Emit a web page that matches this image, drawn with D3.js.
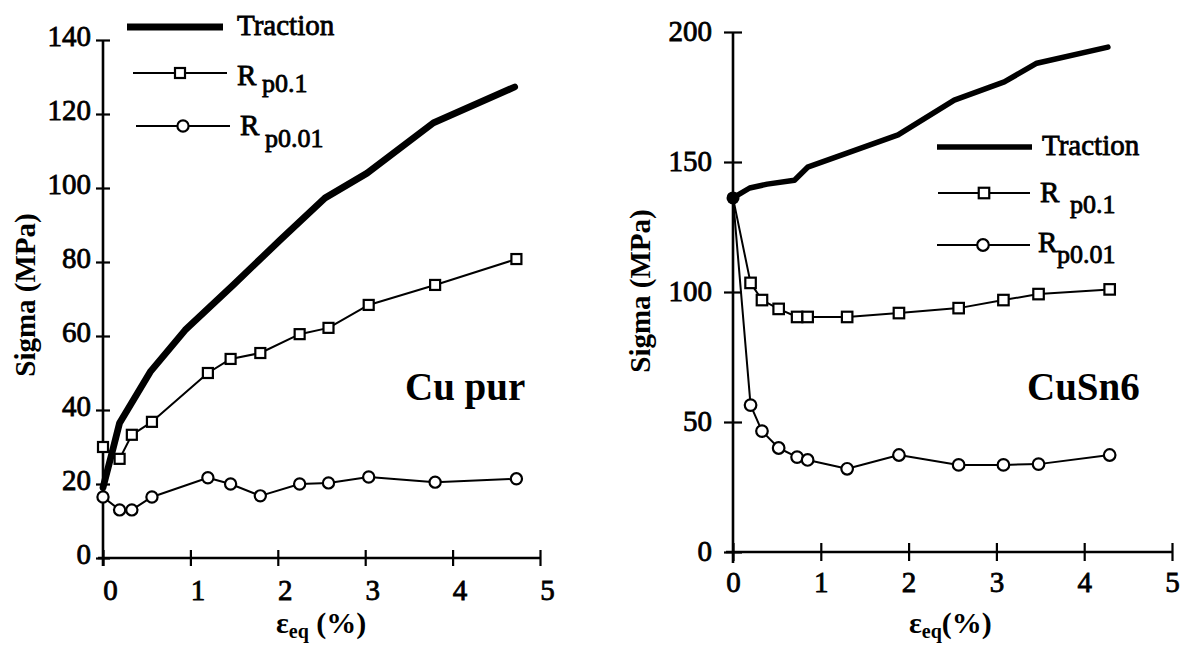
<!DOCTYPE html>
<html><head><meta charset="utf-8">
<script src="https://cdn.jsdelivr.net/npm/d3@7"></script>
<style>
body{margin:0;background:#fff}
svg{display:block;background:#fff}
text{font-family:"Liberation Serif","Times New Roman",serif;fill:#000}
</style>
</head><body>
<svg id="chart" width="1183" height="646"></svg>
<script>
// ---------- data ----------
const seriesNames = ["Traction", "R", "R"];
const subNames = ["", "p0.1", "p0.01"];
const xTicks = [0, 1, 2, 3, 4, 5];
const yTicksCu = [0, 20, 40, 60, 80, 100, 120, 140];
const yTicksSn = [0, 50, 100, 150, 200];

// Cu pur
const cuTractionStrain = [0, 0.12, 0.19, 0.54, 0.94, 1.49, 2.03, 2.54, 3.02, 3.78, 4.71];
const cuTractionSigma  = [19, 30, 36.5, 50.3, 61.6, 73.8, 86, 97.3, 104, 117.6, 127.3];
const cuStrain  = [0, 0.19, 0.33, 0.56, 1.2, 1.46, 1.8, 2.25, 2.58, 3.04, 3.8, 4.73];
const cuRp01    = [30, 26.8, 33.3, 36.8, 50, 53.8, 55.4, 60.5, 62.2, 68.4, 73.8, 80.8];
const cuRp001   = [16.5, 13, 13, 16.5, 21.7, 20, 16.8, 20, 20.3, 21.9, 20.5, 21.4];

// CuSn6
const snTractionStrain = [0, 0.19, 0.39, 0.70, 0.85, 1.33, 1.88, 2.52, 3.09, 3.46, 4.27];
const snTractionSigma  = [136.2, 140, 141.5, 143, 148, 153.8, 160.4, 173.8, 180.8, 188, 194.2];
const snStrain  = [0, 0.2, 0.33, 0.52, 0.73, 0.85, 1.3, 1.89, 2.57, 3.08, 3.48, 4.29];
const snRp01    = [136.2, 103.5, 96.9, 93.5, 90.4, 90.4, 90.4, 91.9, 93.8, 96.9, 99.2, 101];
const snRp001   = [136.2, 56.5, 46.5, 40, 36.5, 35.4, 32, 37.3, 33.5, 33.5, 33.8, 37.3];

// ---------- drawing ----------
const svg = d3.select("#chart");
const zip = (a, b) => a.map((v, i) => [v, b[i]]);

function panel(cfg) {
  const x = d3.scaleLinear().domain([0, 5]).range(cfg.xr);
  const y = d3.scaleLinear().domain(cfg.yd).range(cfg.yr);
  const g = svg.append("g");

  // x axis (ticks + labels)
  const xa = g.append("g").attr("transform", `translate(0,${y(0)})`)
    .call(d3.axisBottom(x).tickValues(xTicks).tickFormat(d3.format("d")).tickSizeOuter(0));
  xa.attr("font-family", null).attr("font-size", 29);
  xa.select(".domain").remove();
  xa.selectAll(".tick line").attr("y1", -cfg.xt).attr("y2", cfg.xt)
    .attr("stroke", "#000").attr("stroke-width", 2.2);
  xa.selectAll(".tick text").attr("y", cfg.xlab).attr("dy", null).attr("dx", cfg.xdx)
    .attr("fill", "#000").attr("stroke", "#000").attr("stroke-width", 0.8);

  // y axis
  const ya = g.append("g").attr("transform", `translate(${x(0)},0)`)
    .call(d3.axisLeft(y).tickValues(cfg.yTicks).tickFormat(d3.format("d")).tickSizeOuter(0));
  ya.attr("font-family", null).attr("font-size", 29);
  ya.select(".domain").remove();
  ya.selectAll(".tick line").attr("x1", -cfg.yt).attr("x2", cfg.yt)
    .attr("stroke", "#000").attr("stroke-width", 2.2);
  ya.selectAll(".tick text").attr("x", -cfg.ylab).attr("dy", null).attr("y", cfg.ydy)
    .attr("fill", "#000").attr("stroke", "#000").attr("stroke-width", 0.8);

  // axis lines
  g.append("line").attr("x1", x(0) - cfg.xext).attr("x2", x(5)).attr("y1", y(0)).attr("y2", y(0))
    .attr("stroke", "#000").attr("stroke-width", 2.6);
  g.append("line").attr("x1", x(0)).attr("x2", x(0)).attr("y1", y(cfg.yd[1])).attr("y2", y(0) + cfg.yext)
    .attr("stroke", "#000").attr("stroke-width", 2.6);

  const line = d3.line().x(d => x(d[0])).y(d => y(d[1]));

  // thin series
  const r01 = zip(cfg.strain, cfg.rp01), r001 = zip(cfg.strain, cfg.rp001);
  [r01, r001].forEach(d => g.append("path").attr("d", line(d)).attr("fill", "none")
    .attr("stroke", "#000").attr("stroke-width", 2).attr("stroke-linejoin", "round"));

  // traction
  const tr = zip(cfg.trX, cfg.trY);
  g.append("path").attr("d", line(tr)).attr("fill", "none").attr("stroke", "#000")
    .attr("stroke-width", cfg.thick).attr("stroke-linejoin", "round").attr("stroke-linecap", "round");

  // markers
  const sq = cfg.sq, rc = cfg.rc;
  g.selectAll(null).data(r01.slice(cfg.skip)).enter().append("rect")
    .attr("x", d => x(d[0]) - sq / 2).attr("y", d => y(d[1]) - sq / 2)
    .attr("width", sq).attr("height", sq).attr("fill", "#fff").attr("stroke", "#000").attr("stroke-width", 2.2);
  g.selectAll(null).data(r001.slice(cfg.skip)).enter().append("circle")
    .attr("cx", d => x(d[0])).attr("cy", d => y(d[1])).attr("r", rc)
    .attr("fill", "#fff").attr("stroke", "#000").attr("stroke-width", 2.2);
  if (cfg.blob) {
    g.append("circle").attr("cx", x(tr[0][0])).attr("cy", y(tr[0][1])).attr("r", 6.5).attr("fill", "#000");
  }

  // legend
  cfg.leg.forEach((L, i) => {
    const lw = i === 0 ? cfg.thick : 2;
    g.append("line").attr("x1", L.x1).attr("x2", L.x2).attr("y1", L.y).attr("y2", L.y)
      .attr("stroke", "#000").attr("stroke-width", lw);
    if (i === 1) g.append("rect").attr("x", L.m - sq / 2).attr("y", L.y - sq / 2).attr("width", sq).attr("height", sq)
      .attr("fill", "#fff").attr("stroke", "#000").attr("stroke-width", 2.2);
    if (i === 2) g.append("circle").attr("cx", L.m).attr("cy", L.y).attr("r", rc)
      .attr("fill", "#fff").attr("stroke", "#000").attr("stroke-width", 2.2);
    g.append("text").attr("x", L.tx).attr("y", L.ty).attr("font-size", 29)
      .attr("stroke", "#000").attr("stroke-width", 0.8).text(seriesNames[i]);
    if (subNames[i]) {
      g.append("text").attr("x", L.sx).attr("y", L.sy).attr("font-size", 26)
        .attr("stroke", "#000").attr("stroke-width", 0.8).text(subNames[i]);
    }
  });

  // axis titles
  g.append("text").attr("transform", `translate(${cfg.ytX},${cfg.ytY}) rotate(-90)`)
    .attr("text-anchor", "middle").attr("font-size", 29).attr("font-weight", "bold").text("Sigma (MPa)");
  const xt = g.append("text").attr("x", cfg.xtX).attr("y", cfg.xtY).attr("font-size", 30).attr("font-weight", "bold");
  xt.append("tspan").text("ε");
  xt.append("tspan").attr("font-size", 20).attr("dy", 5).text("eq");
  xt.append("tspan").attr("dy", -5).text(cfg.xtGap + "(%)");

  // material label
  g.append("text").attr("x", cfg.lblX).attr("y", cfg.lblY).attr("font-size", 39).attr("font-weight", "bold")
    .attr("xml:space", "preserve").text(cfg.label);
}

panel({
  xr: [103, 540], yd: [0, 140], yr: [558, 40], yTicks: yTicksCu,
  xt: 8, yt: 7, xlab: 42, xdx: 7, ylab: 12, ydy: 5, xext: 5, yext: 8,
  strain: cuStrain, rp01: cuRp01, rp001: cuRp001, trX: cuTractionStrain, trY: cuTractionSigma,
  thick: 6.8, sq: 10, rc: 5.6, skip: 0, blob: false,
  leg: [
    {x1: 127, x2: 223, y: 27, tx: 237, ty: 35},
    {x1: 133, x2: 227, y: 73, m: 180, tx: 237, ty: 85, sx: 262, sy: 92},
    {x1: 136, x2: 230, y: 126, m: 183, tx: 240, ty: 135, sx: 265, sy: 147}
  ],
  ytX: 35, ytY: 295, xtX: 276, xtY: 633, xtGap: " ",
  label: "Cu pur", lblX: 405, lblY: 400
});

panel({
  xr: [733, 1172], yd: [0, 200], yr: [552, 32], yTicks: yTicksSn,
  xt: 9, yt: 9, xlab: 40, xdx: 0, ylab: 21, ydy: 8, xext: 7, yext: 11,
  strain: snStrain, rp01: snRp01, rp001: snRp001, trX: snTractionStrain, trY: snTractionSigma,
  thick: 5.5, sq: 10.5, rc: 5.8, skip: 1, blob: true,
  leg: [
    {x1: 937, x2: 1032, y: 147, tx: 1042, ty: 155},
    {x1: 938, x2: 1030, y: 193, m: 984, tx: 1040, ty: 202, sx: 1070, sy: 213},
    {x1: 937, x2: 1030, y: 245, m: 983, tx: 1038, ty: 252, sx: 1057, sy: 263}
  ],
  ytX: 650, ytY: 291, xtX: 909, xtY: 633, xtGap: "",
  label: "CuSn6", lblX: 1027, lblY: 400
});
</script>
</body></html>
